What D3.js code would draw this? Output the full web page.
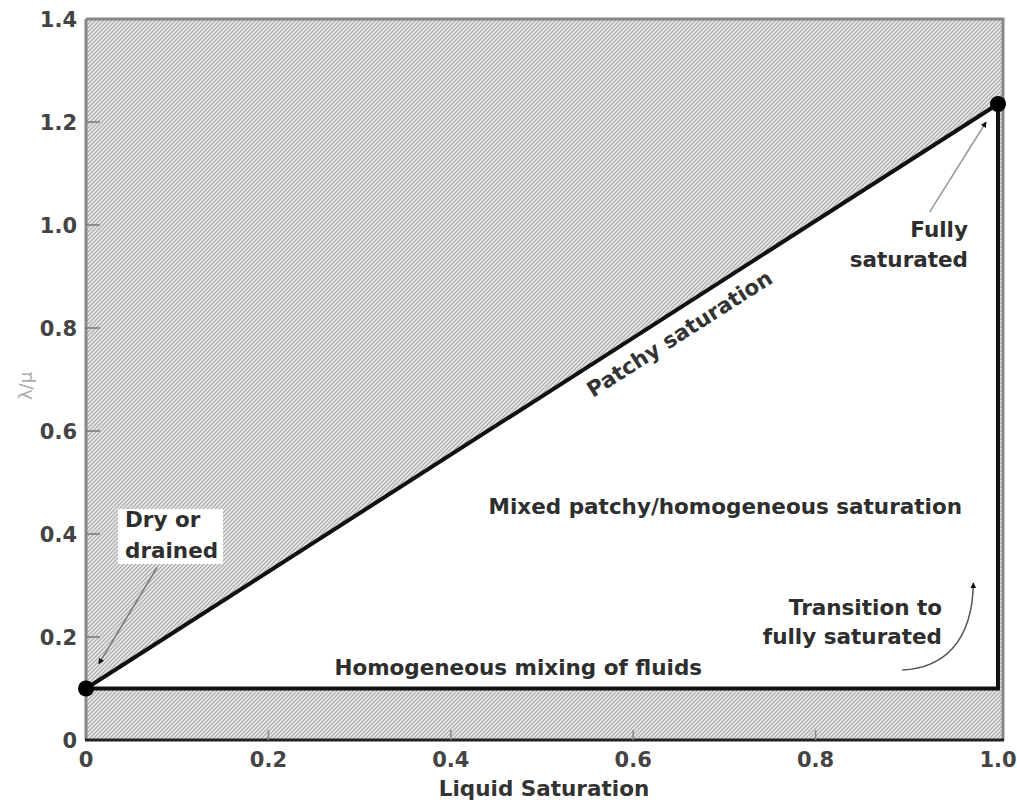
<!DOCTYPE html>
<html>
<head>
<meta charset="utf-8">
<script src="https://cdn.jsdelivr.net/npm/d3@7"></script>
<style>
  html, body { margin: 0; padding: 0; background: #fff; }
  svg { display: block; font-family: 'DejaVu Sans', 'Liberation Sans', Arial, sans-serif; }
</style>
</head>
<body>
<div id="chart"></div>
<script>
// ticks
const xTicks = [0, 0.2, 0.4, 0.6, 0.8, 1.0]
const yTicks = [0, 0.2, 0.4, 0.6, 0.8, 1.0, 1.2, 1.4]

// boundary of the patchy / homogeneous region
const dryPoint = [0, 0.1]
const saturatedPoint = [1.0, 1.235]
const cornerPoint = [1.0, 0.1]

// annotation texts
const dryText = ['Dry or', 'drained']
const fullText = ['Fully', 'saturated']
const mixedText = ['Mixed patchy/homogeneous saturation']
const transitionText = ['Transition to', 'fully saturated']
const homogeneousText = ['Homogeneous mixing of fluids']
const patchyText = 'Patchy saturation'

function draw() {
  const width = 1017
  const height = 802

  const x = d3.scaleLinear().domain([0, 1]).range([86, 998])
  const y = d3.scaleLinear().domain([0, 1.4]).range([740, 19])
  const frameRight = 1003
  const fs = 21.5

  const svg = d3.create('svg').attr('width', width).attr('height', height)

  // hatch pattern
  const defs = svg.append('defs')
  const pat = defs.append('pattern')
    .attr('id', 'hatch')
    .attr('patternUnits', 'userSpaceOnUse')
    .attr('width', 4).attr('height', 4)
  pat.append('rect').attr('width', 4).attr('height', 4).attr('fill', '#e6e6e6')
  pat.append('path')
    .attr('d', 'M-1,1 l2,-2 M0,4 l4,-4 M3,5 l2,-2')
    .attr('stroke', '#a8a8a8').attr('stroke-width', 1.1)

  const arrow = defs.append('marker')
    .attr('id', 'arrow')
    .attr('viewBox', '0 0 10 10')
    .attr('refX', 9).attr('refY', 5)
    .attr('markerWidth', 4).attr('markerHeight', 4)
    .attr('orient', 'auto')
  arrow.append('path').attr('d', 'M0,0 L10,5 L0,10 z').attr('fill', '#111')

  // hatched plot area
  svg.append('rect')
    .attr('x', x(0)).attr('y', y(1.4))
    .attr('width', frameRight - x(0)).attr('height', y(0) - y(1.4))
    .attr('fill', 'url(#hatch)')

  // white triangle
  svg.append('path')
    .attr('d', d3.line()([
      [x(dryPoint[0]), y(dryPoint[1])],
      [x(saturatedPoint[0]), y(saturatedPoint[1])],
      [x(cornerPoint[0]), y(cornerPoint[1])],
    ]) + 'Z')
    .attr('fill', '#fff')

  // frame
  svg.append('path')
    .attr('d', `M${x(0)},${y(1.4)} H${frameRight} V${y(0)}`)
    .attr('fill', 'none').attr('stroke', '#888').attr('stroke-width', 3)
  svg.append('line')
    .attr('x1', x(0)).attr('x2', x(0)).attr('y1', y(1.4)).attr('y2', y(0))
    .attr('stroke', '#888').attr('stroke-width', 3)
  svg.append('line')
    .attr('x1', x(0) - 1).attr('x2', frameRight + 1).attr('y1', y(0)).attr('y2', y(0))
    .attr('stroke', '#222').attr('stroke-width', 3)

  // ticks (inward)
  svg.append('g').selectAll('line').data(yTicks.slice(1, -1)).join('line')
    .attr('x1', x(0)).attr('x2', x(0) + 14)
    .attr('y1', d => y(d)).attr('y2', d => y(d))
    .attr('stroke', '#777').attr('stroke-width', 1.5)
  svg.append('g').selectAll('line').data(xTicks.slice(1, -1)).join('line')
    .attr('x1', d => x(d)).attr('x2', d => x(d))
    .attr('y1', y(0)).attr('y2', y(0) - 10)
    .attr('stroke', '#888').attr('stroke-width', 1.5)

  // tick labels
  const tickFmt = d => (d === 0 ? '0' : d3.format('.1f')(d))
  svg.append('g').selectAll('text').data(yTicks).join('text')
    .attr('x', 77).attr('y', d => y(d) + 8)
    .attr('text-anchor', 'end')
    .attr('font-size', 21).attr('font-weight', 'bold').attr('fill', '#444')
    .text(tickFmt)
  svg.append('g').selectAll('text').data(xTicks).join('text')
    .attr('x', d => x(d)).attr('y', 767)
    .attr('text-anchor', 'middle')
    .attr('font-size', 21).attr('font-weight', 'bold').attr('fill', '#444')
    .text(tickFmt)

  // axis titles
  svg.append('text')
    .attr('x', 544).attr('y', 796)
    .attr('text-anchor', 'middle')
    .attr('font-size', fs).attr('font-weight', 'bold').attr('fill', '#333')
    .text('Liquid Saturation')
  svg.append('text')
    .attr('transform', 'translate(32,386) rotate(-90)')
    .attr('text-anchor', 'middle')
    .attr('font-size', 18).attr('fill', '#aaa')
    .text('λ/μ')

  // boundary lines
  const lineStyle = sel => sel.attr('stroke', '#111').attr('stroke-width', 4).attr('fill', 'none')
  svg.append('path')
    .attr('d', d3.line()([[x(dryPoint[0]), y(dryPoint[1])], [x(saturatedPoint[0]), y(saturatedPoint[1])]]))
    .call(lineStyle)
  svg.append('path')
    .attr('d', d3.line()([[x(dryPoint[0]), y(dryPoint[1])], [x(cornerPoint[0]), y(cornerPoint[1])], [x(saturatedPoint[0]), y(saturatedPoint[1])]]))
    .call(lineStyle)

  // end points
  svg.append('g').selectAll('circle').data([dryPoint, saturatedPoint]).join('circle')
    .attr('cx', d => x(d[0])).attr('cy', d => y(d[1]))
    .attr('r', 8).attr('fill', '#000')

  // label along the patchy line
  const ang = Math.atan2(y(saturatedPoint[1]) - y(dryPoint[1]), x(saturatedPoint[0]) - x(dryPoint[0])) * 180 / Math.PI
  const t = 0.638
  const px = x(t), py = y(dryPoint[1] + t * (saturatedPoint[1] - dryPoint[1]))
  svg.append('text')
    .attr('transform', `translate(${px},${py}) rotate(${ang}) translate(0,29)`)
    .attr('text-anchor', 'middle')
    .attr('font-size', fs).attr('font-weight', 'bold').attr('fill', '#333')
    .text(patchyText)

  // annotation arrows
  svg.append('path')
    .attr('d', `M${x(0.078)},${y(0.335)} L${x(0.014)},${y(0.148)}`)
    .attr('stroke', '#777').attr('stroke-width', 1.5).attr('fill', 'none')
    .attr('marker-end', 'url(#arrow)')
  svg.append('path')
    .attr('d', `M${x(0.925)},${y(1.025)} L${x(0.987)},${y(1.2)}`)
    .attr('stroke', '#999').attr('stroke-width', 1.5).attr('fill', 'none')
    .attr('marker-end', 'url(#arrow)')
  svg.append('path')
    .attr('d', `M${x(0.895)},${y(0.136)} C${x(0.94)},${y(0.14)} ${x(0.972)},${y(0.19)} ${x(0.973)},${y(0.305)}`)
    .attr('stroke', '#555').attr('stroke-width', 1.5).attr('fill', 'none')
    .attr('marker-end', 'url(#arrow)')

  // text labels
  const addLabel = (lines, px, py, anchor, lh) => {
    const g = svg.append('g')
    lines.forEach((s, i) => {
      g.append('text')
        .attr('x', px).attr('y', py + i * lh)
        .attr('text-anchor', anchor)
        .attr('font-size', fs).attr('font-weight', 'bold').attr('fill', '#2e2e2e')
        .text(s)
    })
    return g
  }

  // dry or drained, on a white box
  svg.append('rect')
    .attr('x', 118).attr('y', 509).attr('width', 105).attr('height', 55)
    .attr('fill', '#fff')
  addLabel(dryText, 125, 527, 'start', 31)
  addLabel(fullText, 968, 237, 'end', 30)
  addLabel(mixedText, x(0.701), y(0.438), 'middle', 30)
  addLabel(transitionText, 942, 615, 'end', 29)
  addLabel(homogeneousText, x(0.474), y(0.127), 'middle', 30)

  document.getElementById('chart').appendChild(svg.node())
}

draw()
</script>
</body>
</html>
